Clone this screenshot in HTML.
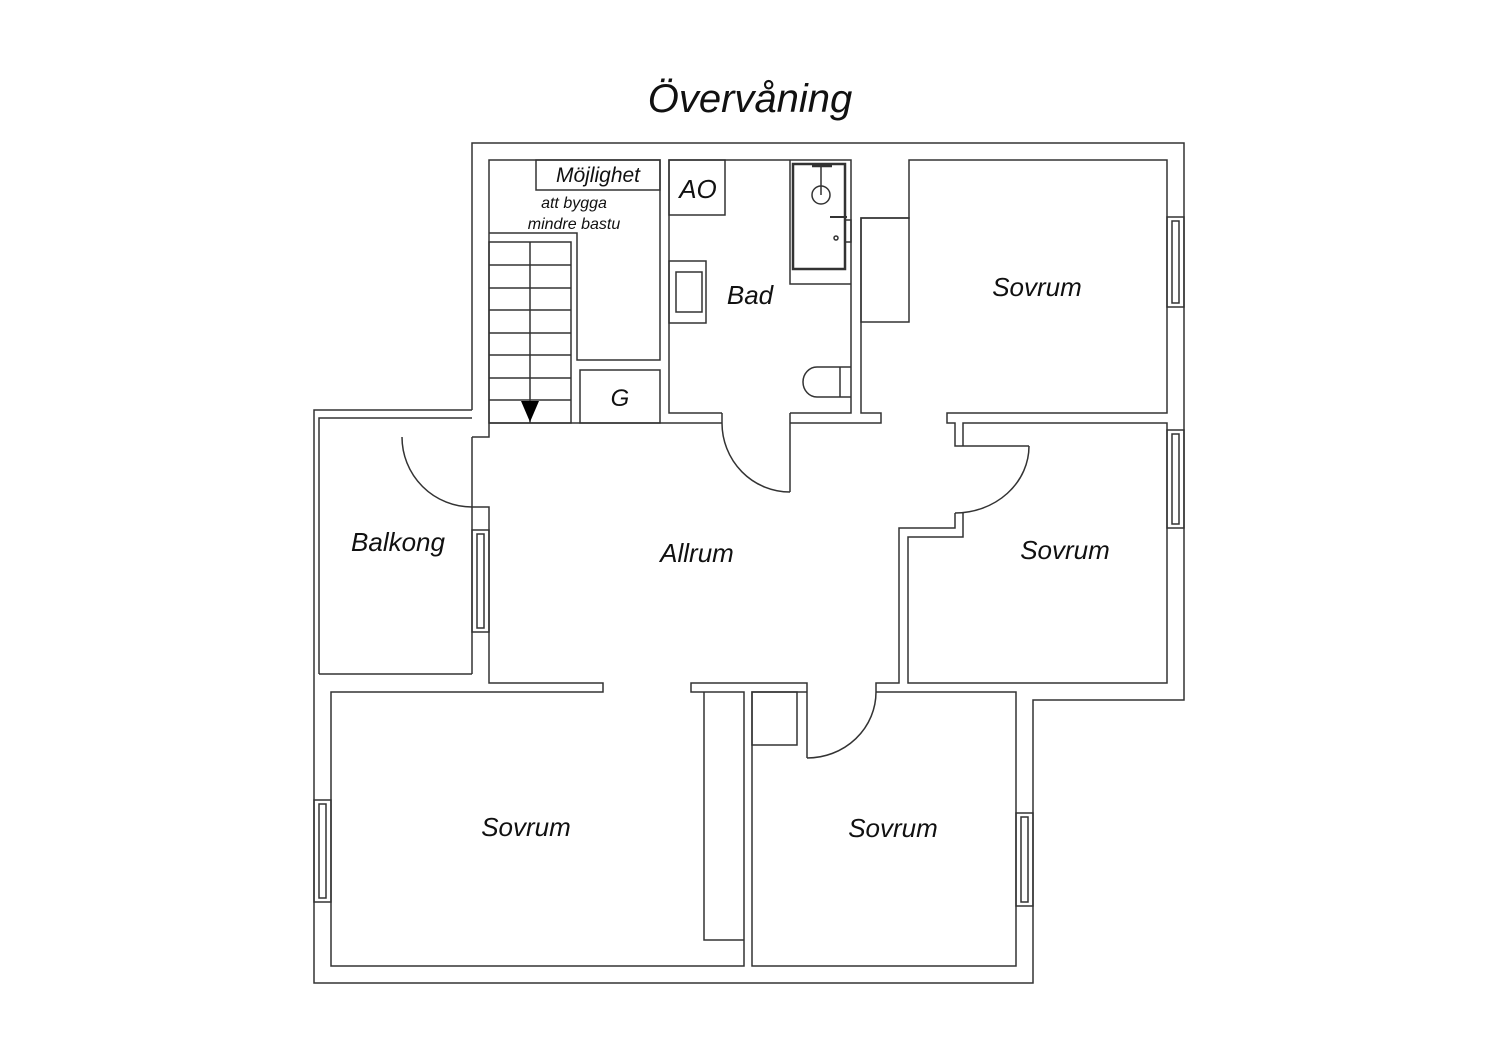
<!DOCTYPE html>
<html><head><meta charset="utf-8"><style>
html,body{margin:0;padding:0;background:#fff;}
svg{display:block;}
text{font-family:"Liberation Sans",sans-serif;font-style:italic;fill:#111;}
</style></head><body>
<svg width="1500" height="1060" viewBox="0 0 1500 1060" xmlns="http://www.w3.org/2000/svg">
<g fill="none" stroke="#333" stroke-width="1.5">
<polyline points="472,410 472,143 1184,143 1184,700 1033,700 1033,983 314,983 314,410 472,410"/>
<polyline points="319,674 319,418 472,418"/>
<line x1="319" y1="674" x2="472" y2="674"/>
<line x1="472" y1="507" x2="472" y2="674"/>
<polyline points="489,423 489,437 472,437"/>
<line x1="472" y1="437" x2="472" y2="507"/>
<path d="M402,437 A70,70 0 0 0 472,507"/>
<polyline points="472,507 489,507 489,683 603,683 603,692 331,692 331,966 744,966 744,692 691,692 691,683 807,683 807,758"/>
<rect x="472" y="530" width="17" height="102"/>
<rect x="477" y="534" width="7" height="94"/>
<polyline points="489,423 489,160 660,160 660,360 577,360 577,233 489,233"/>
<rect x="536" y="160" width="124" height="30"/>
<rect x="489" y="242" width="82" height="181"/>
<line x1="530" y1="242" x2="530" y2="423"/>
<line x1="489" y1="265" x2="571" y2="265"/>
<line x1="489" y1="288" x2="571" y2="288"/>
<line x1="489" y1="310" x2="571" y2="310"/>
<line x1="489" y1="333" x2="571" y2="333"/>
<line x1="489" y1="355" x2="571" y2="355"/>
<line x1="489" y1="378" x2="571" y2="378"/>
<line x1="489" y1="400" x2="571" y2="400"/>
<rect x="580" y="370" width="80" height="53"/>
<line x1="489" y1="423" x2="722" y2="423"/>
<polyline points="722,413 669,413 669,160 851,160 851,413 790,413"/>
<rect x="669" y="160" width="56" height="55"/>
<rect x="669" y="261" width="37" height="62"/>
<rect x="676" y="272" width="26" height="40"/>
<polyline points="790,160 790,284 851,284"/>
<rect x="793" y="164" width="52" height="105" stroke-width="2.5"/>
<circle cx="821" cy="195" r="9"/>
<line x1="821" y1="165" x2="821" y2="195"/>
<line x1="812" y1="166" x2="832" y2="166" stroke-width="2.5"/>
<line x1="830" y1="217" x2="847" y2="217" stroke-width="2"/>
<circle cx="836" cy="238" r="2"/>
<rect x="845" y="220" width="6" height="22"/>
<path d="M851,367 L817,367 A14,15 0 0 0 817,397 L851,397"/>
<line x1="840" y1="367" x2="840" y2="397"/>
<line x1="722" y1="413" x2="722" y2="423"/>
<line x1="790" y1="413" x2="790" y2="492"/>
<path d="M722,423 A68,69 0 0 0 790,492"/>
<polyline points="790,423 881,423 881,413 861,413 861,218 909,218 909,160 1167,160 1167,413 947,413 947,423 955,423 955,446 1029,446"/>
<rect x="861" y="218" width="48" height="104"/>
<path d="M1029,446 A74,67 0 0 1 955,513"/>
<polyline points="955,513 955,528 899,528 899,683 876,683 876,692"/>
<path d="M807,758 A69,66 0 0 0 876,692"/>
<polyline points="963,513 963,537 908,537 908,683 1167,683 1167,423 963,423 963,446"/>
<rect x="1167" y="217" width="17" height="90"/>
<rect x="1172" y="221" width="7" height="82"/>
<rect x="1167" y="430" width="17" height="98"/>
<rect x="1172" y="434" width="7" height="90"/>
<polyline points="876,692 1016,692 1016,966 752,966 752,692 807,692"/>
<rect x="752" y="692" width="45" height="53"/>
<polyline points="704,692 704,940 744,940"/>
<rect x="1016" y="813" width="17" height="93"/>
<rect x="1021" y="817" width="7" height="85"/>
<rect x="314" y="800" width="17" height="102"/>
<rect x="319" y="804" width="7" height="94"/>
</g>
<polygon points="521,401 539,401 530,422" fill="#000"/>
<text x="750" y="112" font-size="40" text-anchor="middle">Övervåning</text>
<text x="598" y="182" font-size="21" text-anchor="middle">Möjlighet</text>
<text x="574" y="208" font-size="16" text-anchor="middle">att bygga</text>
<text x="574" y="229" font-size="16" text-anchor="middle">mindre bastu</text>
<text x="698" y="198" font-size="26" text-anchor="middle">AO</text>
<text x="620" y="406" font-size="24" text-anchor="middle">G</text>
<text x="750" y="304" font-size="26" text-anchor="middle">Bad</text>
<text x="1037" y="296" font-size="26" text-anchor="middle">Sovrum</text>
<text x="1065" y="559" font-size="26" text-anchor="middle">Sovrum</text>
<text x="697" y="562" font-size="26" text-anchor="middle">Allrum</text>
<text x="398" y="551" font-size="26" text-anchor="middle">Balkong</text>
<text x="526" y="836" font-size="26" text-anchor="middle">Sovrum</text>
<text x="893" y="837" font-size="26" text-anchor="middle">Sovrum</text>
</svg>
</body></html>
